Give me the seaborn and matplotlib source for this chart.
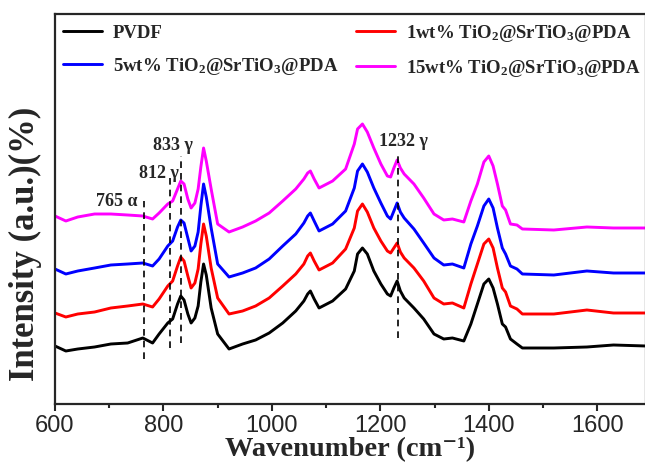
import matplotlib
matplotlib.use("Agg")
import matplotlib.pyplot as plt
import numpy as np
import pandas as pd
import seaborn as sns
from matplotlib.ticker import MultipleLocator

# Wavenumber grid (cm-1)
wavenumber = [600, 620, 642, 673, 703, 734, 762, 780, 792, 808, 817, 826, 832, 838,
              845, 851, 858, 864, 869, 874, 879, 888, 900, 921, 946, 970, 995, 1020,
              1044, 1059, 1066, 1071, 1078, 1087, 1112, 1136, 1152, 1158, 1167, 1176,
              1188, 1201, 1213, 1219, 1225, 1231, 1237, 1244, 1262, 1280, 1299, 1317,
              1333, 1354, 1367, 1379, 1391, 1400, 1408, 1416, 1425, 1431, 1440, 1452,
              1462, 1520, 1581, 1630, 1690]

# Intensities (a.u., stacked as drawn)
pvdf = [58, 53, 55, 57, 60, 61, 66, 61, 70, 81, 85, 100, 108, 104,
        90, 81, 86, 98, 122, 140, 129, 96, 70, 55, 60, 64, 71, 81,
        93, 103, 110, 113, 105, 96, 103, 115, 133, 150, 156, 150,
        133, 120, 110, 108, 116, 123, 113, 106, 96, 85, 70, 65,
        66, 63, 80, 100, 120, 125, 116, 100, 80, 77, 65, 60,
        56, 56, 57, 59, 58]
wt1 = [91, 87, 90, 92, 96, 98, 100, 97, 105, 118, 123, 138, 147, 143,
       128, 116, 121, 135, 160, 180, 168, 136, 106, 90, 93, 98, 106, 118,
       130, 140, 148, 151, 143, 134, 141, 155, 176, 193, 200, 192,
       176, 163, 153, 151, 156, 161, 152, 146, 136, 123, 106, 100,
       101, 96, 120, 140, 160, 165, 156, 136, 116, 112, 98, 95,
       90, 90, 94, 91, 91]
wt5 = [135, 130, 133, 136, 139, 140, 141, 138, 145, 158, 163, 177, 184, 181,
       166, 153, 158, 172, 198, 220, 207, 176, 140, 127, 131, 136, 145, 158,
       170, 181, 188, 191, 183, 173, 180, 193, 216, 233, 240, 232,
       216, 201, 188, 185, 193, 201, 192, 186, 175, 161, 146, 139,
       140, 136, 160, 178, 198, 205, 196, 176, 156, 150, 138, 135,
       130, 129, 133, 131, 131]
wt15 = [188, 183, 187, 190, 190, 189, 188, 185, 191, 200, 203, 215, 223, 220,
        205, 196, 201, 215, 237, 256, 243, 215, 180, 172, 177, 183, 191, 203,
        215, 225, 231, 233, 225, 216, 223, 235, 260, 275, 280, 272,
        256, 240, 228, 227, 236, 244, 236, 230, 220, 206, 190, 184,
        185, 182, 203, 220, 242, 248, 238, 220, 198, 194, 180, 179,
        175, 174, 177, 176, 176]

series_names = ["PVDF",
                "1wt% TiO$_2$@SrTiO$_3$@PDA",
                "5wt% TiO$_2$@SrTiO$_3$@PDA",
                "15wt% TiO$_2$@SrTiO$_3$@PDA"]
series_colors = ["#000000", "#ff0000", "#0000ff", "#ff00ff"]

# Band markers
peak_positions = [765, 812, 833, 1232]
peak_labels = ["765 α", "812 γ", "833 γ", "1232 γ"]
peak_line_top = [203, 228, 248, 251]
peak_line_bottom = [45, 56, 61, 66]
label_x = [752, 791, 817, 1243]
label_y = [202, 231, 258, 263]
label_ha = ["right", "center", "center", "center"]

sns.set_style("ticks")
plt.rcParams["font.family"] = ["Liberation Serif", "DejaVu Serif"]
plt.rcParams["font.weight"] = "bold"
plt.rcParams["mathtext.fontset"] = "custom"
plt.rcParams["mathtext.rm"] = "Liberation Serif:bold"
plt.rcParams["mathtext.bf"] = "Liberation Serif:bold"
plt.rcParams["mathtext.it"] = "Liberation Serif:bold:italic"
plt.rcParams["mathtext.default"] = "bf"

df = pd.concat([
    pd.DataFrame({"wavenumber": wavenumber, "intensity": vals, "sample": name})
    for name, vals in zip(series_names, [pvdf, wt1, wt5, wt15])
])

fig = plt.figure(figsize=(6.45, 4.68), dpi=100)
ax = fig.add_axes([55 / 645, 1 - 404 / 468, (646 - 55) / 645, (404 - 14) / 468])

sns.lineplot(data=df, x="wavenumber", y="intensity", hue="sample",
             hue_order=series_names, palette=dict(zip(series_names, series_colors)),
             sort=False, estimator=None, linewidth=2.1, ax=ax)
for line in ax.lines:
    line.set_solid_joinstyle("round")

for xp, top, bot in zip(peak_positions, peak_line_top, peak_line_bottom):
    ax.plot([xp, xp], [bot, top], color="black", lw=1.2, ls=(0, (4, 3)))
for x, y, txt, ha in zip(label_x, label_y, peak_labels, label_ha):
    ax.text(x, y, txt, ha=ha, va="center", fontsize=13, fontweight="bold")

ax.set_xlim(600, 1690)
ax.set_ylim(0, 390)
ax.set_yticks([])
ax.xaxis.set_major_locator(MultipleLocator(200))
ax.xaxis.set_minor_locator(MultipleLocator(100))
ax.tick_params(axis="x", which="major", direction="out", length=5, width=1.5, pad=3)
ax.tick_params(axis="x", which="minor", direction="out", length=3, width=1.5)
for lab in ax.get_xticklabels():
    lab.set_family(["Liberation Sans Narrow", "Liberation Sans"])
    lab.set_fontsize(17)
    lab.set_fontweight("normal")
for sp in ax.spines.values():
    sp.set_linewidth(1.6)
    sp.set_visible(True)

ax.set_xlabel("Wavenumber (cm⁻¹)", fontsize=20.5, fontweight="bold", labelpad=0)
ax.set_ylabel("Intensity (a.u.)(%)", fontsize=25, fontweight="bold")
ax.yaxis.set_label_coords(-0.022, 0.41)

handles, labels = ax.get_legend_handles_labels()
order = [0, 2, 1, 3]
ax.legend([handles[i] for i in order], [labels[i] for i in order],
          ncol=2, loc="upper left", bbox_to_anchor=(0.0, 0.997), frameon=False,
          handlelength=2.1, handletextpad=0.6, columnspacing=0.9,
          labelspacing=0.75, borderaxespad=0.0, prop={"weight": "bold", "size": 13.5})

fig.savefig("out.png", dpi=100)
